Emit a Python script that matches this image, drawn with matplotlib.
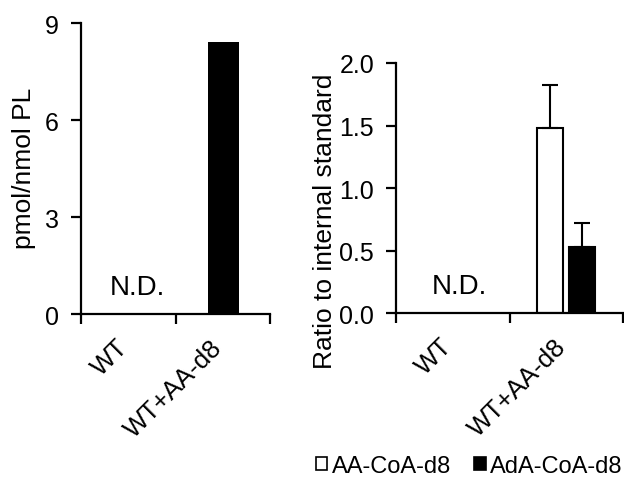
import numpy as np
import matplotlib
matplotlib.use("Agg")
import matplotlib.pyplot as plt
import matplotlib.transforms as mtrans
from matplotlib.patches import Patch

plt.rcParams['font.family'] = ['Liberation Sans', 'DejaVu Sans']

# data (WT is not detected -> nan)
groups = ['WT', 'WT+AA-d8']
pl_amount = [np.nan, 8.4]
aa_coa = [np.nan, 1.48]
aa_coa_err = [0, 0.34]
ada_coa = [np.nan, 0.53]
ada_coa_err = [0, 0.19]
series_names = ['AA-CoA-d8', 'AdA-CoA-d8']

fig = plt.figure(figsize=(6.24, 4.81), dpi=100)
ax1 = fig.add_axes([0.130, 0.345, 0.303, 0.605])
ax2 = fig.add_axes([0.635, 0.347, 0.364, 0.520])

x = np.arange(len(groups)) + 0.5

def style_axis(ax, ymax, yticks, fmt):
    for s in ['top', 'right']:
        ax.spines[s].set_visible(False)
    for s in ['left', 'bottom']:
        ax.spines[s].set_linewidth(1.6)
    ax.set_xlim(0, len(groups))
    ax.set_ylim(0, ymax)
    ax.set_yticks(yticks)
    ax.set_yticklabels([fmt.format(v) for v in yticks], fontsize=18)
    ax.set_xticks(np.arange(len(groups) + 1))
    ax.set_xticklabels([])
    ax.set_xticks(x, minor=True)
    ax.set_xticklabels(groups, minor=True, rotation=45, ha='right', va='center',
                       rotation_mode='anchor', fontsize=18.5)
    ax.tick_params(axis='both', which='major', direction='out', length=7, width=1.6)
    ax.tick_params(axis='x', which='minor', length=0, pad=21)
    ax.tick_params(axis='y', pad=9)
    shift = mtrans.ScaledTranslation(-4.5 / 100, 0, fig.dpi_scale_trans)
    for lab in ax.get_xticklabels(minor=True):
        lab.set_transform(lab.get_transform() + shift)

# left panel
ax1.bar(x[1] + 0.008, pl_amount[1], width=0.33, color='black')
style_axis(ax1, 9, [0, 3, 6, 9], '{:g}')
ax1.set_ylabel('pmol/nmol PL', fontsize=19)
ax1.yaxis.set_label_coords(-0.238, 0.505)
ax1.text(0.6, 0.83, 'N.D.', fontsize=20, ha='center', va='center')

# right panel
w = 0.23
ax2.bar(x[1] - 0.143, aa_coa[1], width=w, color='white', edgecolor='black',
        linewidth=1.5, yerr=[[0], [aa_coa_err[1]]], capsize=6,
        error_kw=dict(elinewidth=1.5, capthick=1.5))
ax2.bar(x[1] + 0.139, ada_coa[1], width=w, color='black', edgecolor='black',
        linewidth=1.5, yerr=[[0], [ada_coa_err[1]]], capsize=6,
        error_kw=dict(elinewidth=1.5, capthick=1.5))
style_axis(ax2, 2.0, [0.0, 0.5, 1.0, 1.5, 2.0], '{:.1f}')
ax2.set_ylabel('Ratio to internal standard', fontsize=19)
ax2.yaxis.set_label_coords(-0.26, 0.37)
ax2.text(0.56, 0.22, 'N.D.', fontsize=20, ha='center', va='center')

handles = [Patch(facecolor='white', edgecolor='black', linewidth=1.2),
           Patch(facecolor='black', edgecolor='black', linewidth=1.2)]
fig.legend(handles, series_names, loc='lower right', bbox_to_anchor=(0.998, 0.006),
           ncol=2, frameon=False, fontsize=17, handlelength=0.47, handleheight=0.47,
           handletextpad=0.2, columnspacing=1.0, borderpad=0, borderaxespad=0)

fig.savefig('out.png', dpi=100)
